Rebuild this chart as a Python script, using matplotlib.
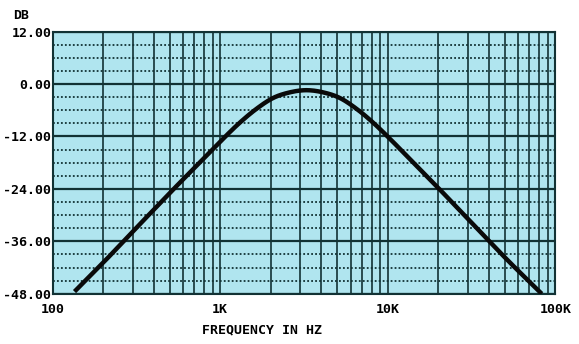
import matplotlib
matplotlib.use("Agg")
import matplotlib.pyplot as plt
import numpy as np

# response
freq_hz = [135, 207, 327, 519, 653, 822, 1035, 1303, 1641, 2065, 2600, 3270,
           4120, 5190, 6530, 8220, 10350, 13030, 16400, 20650, 32700, 51900,
           83000]
gain_db = [-47.5, -40.3, -32.3, -24.3, -20.4, -16.5, -12.6, -8.9, -5.7, -3.2,
           -1.9, -1.4, -1.9, -3.2, -5.7, -8.9, -12.6, -16.5, -20.4, -24.3,
           -32.3, -40.3, -48.0]

y_ticks = [12, 0, -12, -24, -36, -48]
y_labels = ["12.00", "0.00", "-12.00", "-24.00", "-36.00", "-48.00"]
x_ticks = [100, 1000, 10000, 100000]
x_labels = ["100", "1K", "10K", "100K"]

grid_col = "#123234"
font = dict(family="DejaVu Sans Mono", weight="bold", size=9.5)


def smooth(xs, ys, n=20):
    # catmull-rom through the read points
    xs = np.asarray(xs, float)
    ys = np.asarray(ys, float)
    px = np.concatenate([[2 * xs[0] - xs[1]], xs, [2 * xs[-1] - xs[-2]]])
    py = np.concatenate([[2 * ys[0] - ys[1]], ys, [2 * ys[-1] - ys[-2]]])
    ox, oy = [], []
    t = np.linspace(0, 1, n, endpoint=False)
    for i in range(1, len(px) - 2):
        for p, o in ((px, ox), (py, oy)):
            p0, p1, p2, p3 = p[i - 1], p[i], p[i + 1], p[i + 2]
            o.extend(0.5 * (2 * p1 + (p2 - p0) * t
                            + (2 * p0 - 5 * p1 + 4 * p2 - p3) * t ** 2
                            + (3 * p1 - p0 - 3 * p2 + p3) * t ** 3))
    ox.append(xs[-1])
    oy.append(ys[-1])
    return np.array(ox), np.array(oy)


fig = plt.figure(figsize=(5.79, 3.44), dpi=100)
ax = fig.add_axes([0.091, 0.146, 0.868, 0.762])
ax.set_facecolor("#b0e5ef")

ax.set_xscale("log")
ax.set_xlim(100, 100000)
ax.set_ylim(-48, 12)

# minor dotted lines every 3 dB
for y in range(-45, 12, 3):
    if y % 12 != 0:
        ax.axhline(y, color=grid_col, lw=1.3, ls=(0, (1, 1.2)), zorder=1)
for y in y_ticks:
    ax.axhline(y, color=grid_col, lw=1.6, zorder=2)

# vertical log grid
for dec in [100, 1000, 10000]:
    for m in range(1, 10):
        ax.axvline(dec * m, color=grid_col, lw=1.2, zorder=2)

lx, ly = smooth(np.log10(freq_hz), gain_db)
ax.plot(10 ** lx, ly, color="#0a0a0a", lw=3.2, solid_capstyle="butt", zorder=5)

ax.set_yticks(y_ticks)
ax.set_yticklabels(y_labels, fontdict=font)
ax.set_xticks(x_ticks)
ax.set_xticklabels(x_labels, fontdict=font)
ax.minorticks_off()
ax.tick_params(axis="y", length=0, pad=1)
ax.tick_params(axis="x", length=0, pad=7)

for s in ax.spines.values():
    s.set_color(grid_col)
    s.set_linewidth(1.5)

fig.text(0.036, 0.956, "DB", ha="center", va="center", **font)
fig.text(0.453, 0.041, "FREQUENCY IN HZ", ha="center", va="center", **font)

fig.savefig("out.png", dpi=100, facecolor="white")
